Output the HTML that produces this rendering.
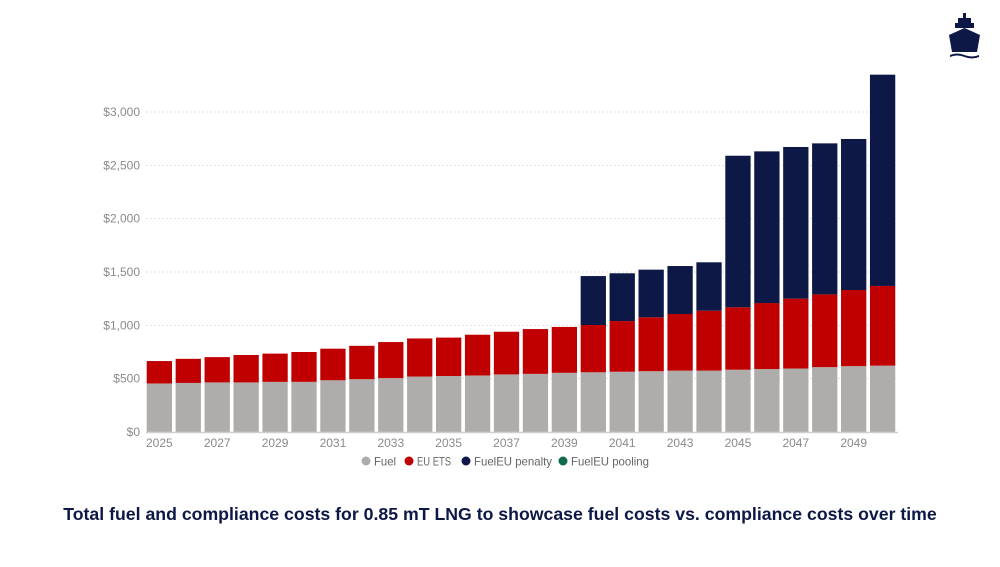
<!DOCTYPE html>
<html><head><meta charset="utf-8"><style>
body{margin:0;background:#fff;width:1000px;height:562px;overflow:hidden;font-family:"Liberation Sans",sans-serif;}
</style></head><body>
<svg width="1000" height="562" id="chart">
<g fill="#0d1846">
<rect x="963" y="13" width="3" height="5"/>
<rect x="958" y="18" width="13" height="5"/>
<rect x="955" y="23" width="19" height="5"/>
<path d="M949 35 L964.5 28 L980 35 L977 52 L952 52 Z"/>
<path d="M950 55 Q957 52 964.5 55 Q972 58 979 55 L979 57 Q972 60 964.5 57 Q957 54 950 57 Z"/>
</g>
<text x="500" y="520" text-anchor="middle" font-size="17.7" font-weight="bold" fill="#0d1846">Total fuel and compliance costs for 0.85 mT LNG  to showcase fuel costs vs. compliance costs over time</text>
</svg>
<script>
const years=[2025,2026,2027,2028,2029,2030,2031,2032,2033,2034,2035,2036,2037,2038,2039,2040,2041,2042,2043,2044,2045,2046,2047,2048,2049,2050];
const fuel=[455,460,465,465,470,470,485,495,505,520,525,530,540,545,555,560,565,570,575,575,584,590,595,608,617,622];
const ets=[210,226,237,257,265,280,296,313,338,357,360,382,400,420,430,443,475,505,531,562,585,619,655,682,714,747];
const penalty=[0,0,0,0,0,0,0,0,0,0,0,0,0,0,0,459,448,447,450,454,1421,1422,1422,1416,1416,1981];
const pooling=[0,0,0,0,0,0,0,0,0,0,0,0,0,0,0,0,0,0,0,0,0,0,0,0,0,0];
const yTicks=[0,500,1000,1500,2000,2500,3000];
const yLabels=["$0","$500","$1,000","$1,500","$2,000","$2,500","$3,000"];
const svg=document.getElementById('chart');const NS='http://www.w3.org/2000/svg';
const y=v=>432-v*320/3000;
const x=i=>146.7+i*28.93;
const bw=25.3;
function mk(t,a){const e=document.createElementNS(NS,t);for(const k in a)e.setAttribute(k,a[k]);svg.appendChild(e);return e;}
yTicks.forEach((v,i)=>{
 if(v>0){const g=mk('line',{x1:146,x2:898,y1:y(v),y2:y(v),stroke:'#e2e2e2','stroke-dasharray':'2,2'});
 
 }
 const t=mk('text',{x:140,y:y(v)+4,'text-anchor':'end','font-size':12,fill:'#8a8a8a'});t.textContent=yLabels[i];
 
 
});
const series=[[fuel,'#afadac','fuel'],[ets,'#c00000','eu-ets'],[penalty,'#0d1846','fueleu-penalty'],[pooling,'#0e6b4e','fueleu-pooling']];
years.forEach((yr,i)=>{
 let base=0;
 series.forEach(([arr,c,n])=>{
  const v=arr[i];if(v<=0)return;
  const r=mk('rect',{x:x(i),y:y(base+v),width:bw,height:y(base)-y(base+v),fill:c});
  
  
  base+=v;
 });
 if(i%2===0){const t=mk('text',{x:x(i)+bw/2,y:447,'text-anchor':'middle','font-size':12,fill:'#8a8a8a'});t.textContent=yr;
 
 }
});
const ax=mk('line',{x1:146,x2:898,y1:432.5,y2:432.5,stroke:'#cfcfcf','stroke-width':1.5});


const leg=[['Fuel','#afadac',366,22],['EU ETS','#c00000',409,34],['FuelEU penalty','#0d1846',466,78],['FuelEU pooling','#0e6b4e',563,78]];
leg.forEach(([l,c,cx,w])=>{
 const g=document.createElementNS(NS,'g');svg.appendChild(g);
 
 
 const ci=document.createElementNS(NS,'circle');ci.setAttribute('cx',cx);ci.setAttribute('cy',461);ci.setAttribute('r',4.5);ci.setAttribute('fill',c);g.appendChild(ci);
 const t=document.createElementNS(NS,'text');t.setAttribute('x',cx+8);t.setAttribute('y',465.5);t.setAttribute('font-size',12);t.setAttribute('fill','#666');t.setAttribute('textLength',w);t.setAttribute('lengthAdjust','spacingAndGlyphs');t.textContent=l;g.appendChild(t);
});
</script>
</body></html>
